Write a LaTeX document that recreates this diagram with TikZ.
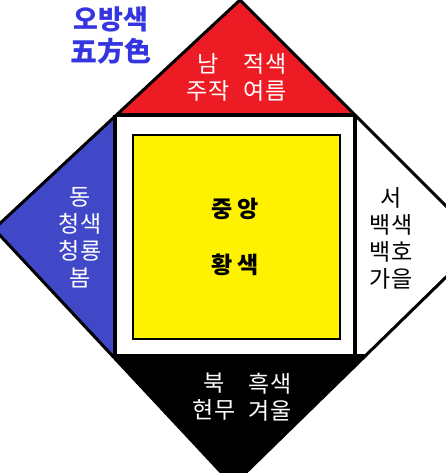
\documentclass[tikz,border=0pt]{standalone}
\usepackage{fontspec}
\newfontfamily\kr{Noto Sans CJK KR}
\definecolor{namred}{HTML}{ED1C24}
\definecolor{dongblue}{HTML}{4048C8}
\definecolor{titleblue}{HTML}{3535E0}
\usetikzlibrary{positioning}

\begin{document}
\begin{tikzpicture}[x=1pt,y=-1pt,
        txt/.style={font=\kr\fontsize{23}{27}\selectfont, align=center, inner sep=0pt},
        mid/.style={font=\kr\bfseries\fontsize{23}{27}\selectfont, inner sep=0pt},
        heading/.style={font=\kr\bfseries\fontsize{27}{32}\selectfont, align=center, inner sep=0pt, text=titleblue},
        edge/.style={line width=3pt, line join=miter},
        frame/.style={line width=4pt}]
    \useasboundingbox (0,0) rectangle (445,473);
    \coordinate (n) at (240,0);
    \coordinate (e) at (482,242);
    \coordinate (s) at (233,485);
    \coordinate (w) at (-6,229);

    \fill[white] (n) -- (e) -- (s) -- (w) -- cycle;
    \begin{scope}
        \clip (n) -- (e) -- (s) -- (w) -- cycle;
        \fill[namred] (-10,-10) rectangle (500,115);
        \fill[dongblue] (-10,115) rectangle (115,356);
        \fill[black] (-10,356) rectangle (500,500);
        \draw[frame] (-10,115) -- (500,115) (-10,356) -- (500,356);
    \end{scope}
    \draw[frame] (115,115) -- (115,356) (355,115) -- (355,356);
    \draw[edge] (n) -- (e) -- (s) -- (w) -- cycle;
    \draw[line width=1.5pt, fill=yellow] (133,135) rectangle (340,339);

    \node[heading] (title) at (111,36) {오방색\\五方色};

    \node[txt, text=white] (nam) at (208,77) {남\\주작};
    \node[txt, text=white] (jeok) at (265,77) {적색\\여름};
    \node[txt, text=white] (dong) at (80,238) {동\\청색\\청룡\\봄};
    \node[txt] (seo) at (391,238) {서\\백색\\백호\\가을};
    \node[txt, text=white] (buk) at (214,397) {북\\현무};
    \node[txt, text=white] (heuk) at (270,397) {흑색\\겨울};

    \node[mid] (jung) at (235,209) {중 앙};
    \node[mid] (hwang) at (235,265) {황 색};
\end{tikzpicture}
\end{document}
